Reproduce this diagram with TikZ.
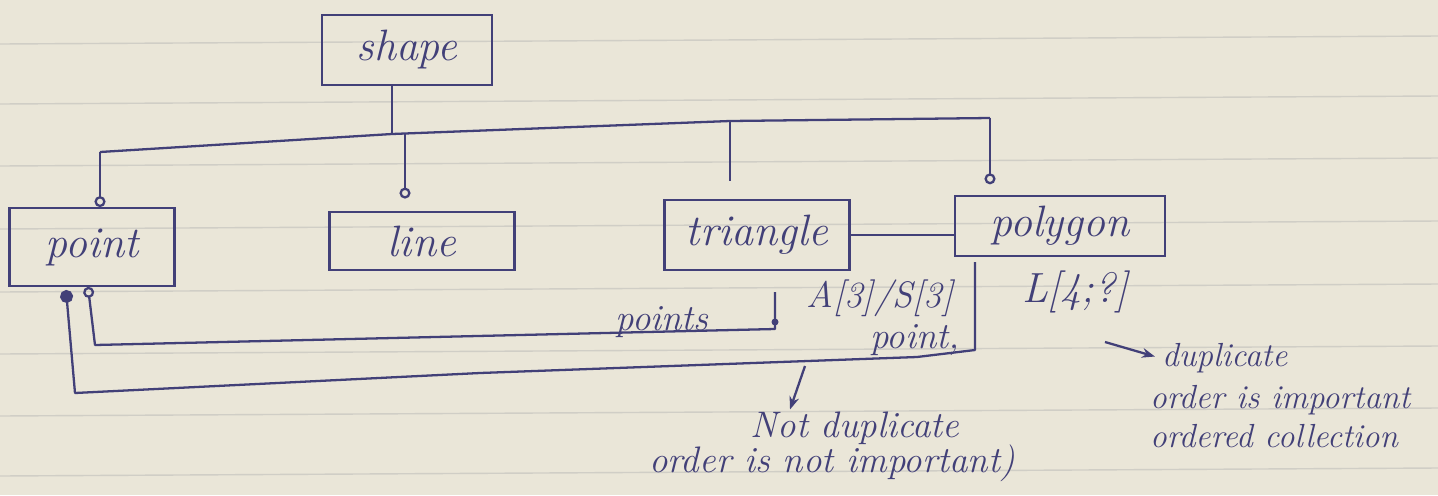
\documentclass[tikz,border=0pt]{standalone}
\usepackage{tikz}
\usetikzlibrary{arrows.meta}
\definecolor{ink}{RGB}{66,64,120}
\definecolor{paper}{RGB}{234,230,216}
\definecolor{ruling}{RGB}{208,206,198}

\begin{document}
\begin{tikzpicture}[x=0.02cm,y=-0.02cm,>={Stealth[length=2.6mm]},
  cls/.style={draw=ink,line width=1.3pt,inner sep=0pt,text=ink,font=\fontsize{25}{28}\selectfont\itshape},
  note/.style={text=ink,inner sep=1pt,font=\fontsize{21}{24}\selectfont\itshape},
  smallnote/.style={note,font=\fontsize{19}{22}\selectfont\itshape},
  wire/.style={draw=ink,line width=1.3pt,line join=round}]
\fill[paper] (0,0) rectangle (1438,495);
\useasboundingbox (0,0) rectangle (1438,495);
% notebook ruling
\foreach \y in {40,100,162,225,288,350,412,472}
  \draw[ruling,line width=0.8pt] (0,\y+4) -- (1438,\y-4);

% classes
\node[cls,minimum width=3.4cm,minimum height=1.4cm] (shape) at (407,50) {shape};
\node[cls,minimum width=3.3cm,minimum height=1.55cm] (point) at (92,247) {point};
\node[cls,minimum width=3.7cm,minimum height=1.16cm] (line) at (422,241) {line};
\node[cls,minimum width=3.7cm,minimum height=1.4cm] (triangle) at (757,235) {triangle};
\node[cls,minimum width=4.2cm,minimum height=1.2cm] (polygon) at (1060,226) {polygon};

% inheritance bus
\coordinate (bus-pt) at (100,152);
\coordinate (bus-sh) at (392,134);
\coordinate (bus-ln) at (405,133);
\coordinate (bus-tr) at (730,121);
\coordinate (bus-pg) at (990,118);
\draw[wire] (bus-pt) -- (bus-sh) -- (bus-tr) -- (bus-pg);
\draw[wire] (shape.south -| bus-sh) -- (bus-sh);
\draw[wire,-{Circle[open,length=2.2mm]}] (bus-pt) -- (bus-pt |- point.north);
\draw[wire,-{Circle[open,length=2.2mm]},shorten >=7pt] (bus-ln) -- (bus-ln |- line.north);
\draw[wire,shorten >=10pt] (bus-tr) -- (bus-tr |- triangle.north);
\draw[wire,-{Circle[open,length=2.2mm]},shorten >=6pt] (bus-pg) -- (bus-pg |- polygon.north);

\draw[wire] (triangle.east) -- (triangle.east -| polygon.west);

% associations back to point
\coordinate (tri-foot) at (775,292);
\coordinate (poly-foot) at (975,262);
\draw[wire,{Circle[open,length=2.2mm]}-] ([xshift=-0.08cm]point.south) -- (95,345) -- (775,329) -- (tri-foot);
\fill[ink] (775,322) circle (3.5);
\draw[wire,{Circle[length=2.6mm]}-] (66,290) -- (75,393) -- (480,373) -- (917,357) -- (975,350) -- (poly-foot);

\node[note] (role-a) at (662,322) {points};
\node[note] (mult-a) at (880,298) {A[3]/S[3]};
\node[note] (role-b) at (915,340) {point,};
\node[note,font=\fontsize{24}{28}\selectfont\itshape] (mult-b) at (1075,292) {L[4;?]};

% remarks
\node[note] (nodup) at (855,428) {Not duplicate};
\node[note] (noorder) at (832,463) {order is not important)};
\node[smallnote,anchor=west] (dup) at (1160,358) {duplicate};
\node[smallnote,anchor=west] (order) at (1148,400) {order is important};
\node[smallnote,anchor=west] (coll) at (1148,436) {ordered collection};
\coordinate (arr-a) at (805,366);
\coordinate (arr-b) at (1105,342);
\draw[wire,->] (arr-a) -- ([xshift=-1.3cm]nodup.north);
\draw[wire,->,shorten >=3pt] (arr-b) -- (dup.west);
\end{tikzpicture}
\end{document}
